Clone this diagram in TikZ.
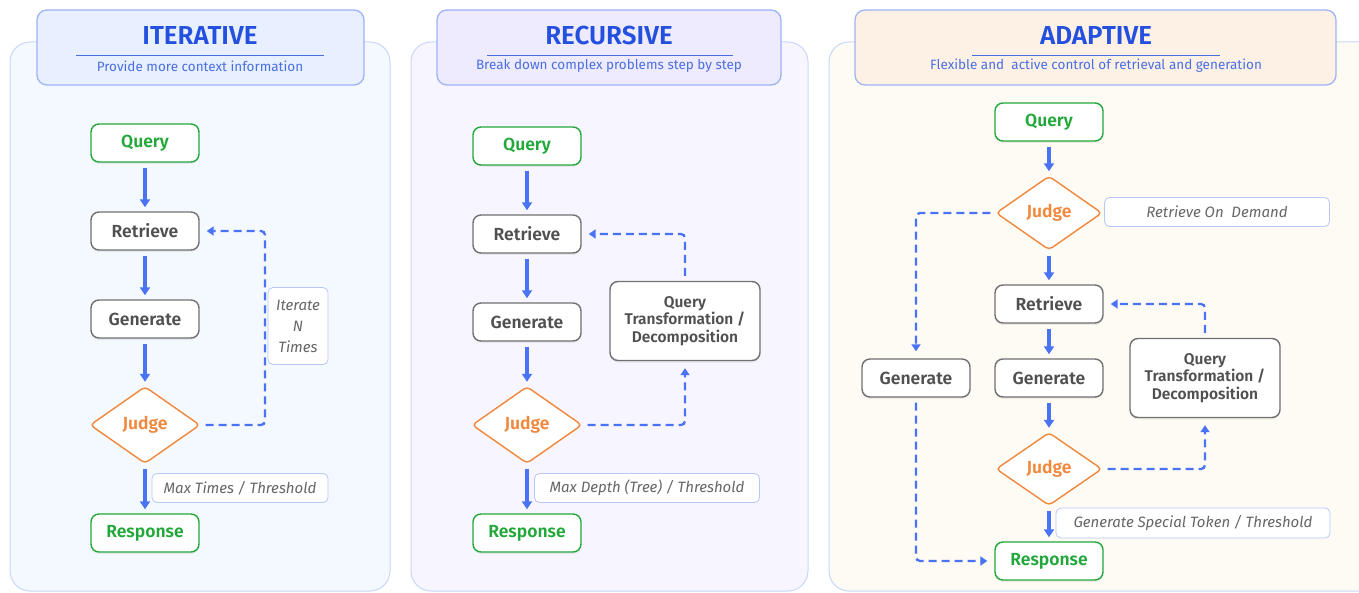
\documentclass[tikz,border=0pt]{standalone}
\usepackage{fontspec}
\setmainfont{Fira Sans}
\newfontfamily\semifont{Fira Sans SemiBold}
\usetikzlibrary{shapes.geometric,arrows.meta,shadows}
\definecolor{ablue}{HTML}{4A72F5}
\definecolor{tblue}{HTML}{2450E0}
\definecolor{sblue}{HTML}{4A6FE3}
\definecolor{qgreen}{HTML}{22A83A}
\definecolor{jorange}{HTML}{F0873A}
\definecolor{ngray}{HTML}{707070}
\definecolor{ntext}{HTML}{505050}
\definecolor{lborder}{HTML}{B8C8FB}
\definecolor{ltext}{HTML}{666666}
\definecolor{pAfill}{HTML}{F4F8FF}
\definecolor{pAborder}{HTML}{C8D6FA}
\definecolor{hAfill}{HTML}{E8EFFE}
\definecolor{hborder}{HTML}{9DB3F4}
\definecolor{pBfill}{HTML}{F7F5FF}
\definecolor{hBfill}{HTML}{EFEBFE}
\definecolor{pCfill}{HTML}{FEFAF4}
\definecolor{hCfill}{HTML}{FCF1E4}
\tikzset{
  panel/.style={draw=pAborder, line width=1pt, rounded corners=20pt},
  header/.style={draw=hborder, line width=1.3pt, rounded corners=10pt},
  ttl/.style={text=tblue, font=\fontsize{26}{30}\semifont},
  sub/.style={text=sblue, font=\fontsize{13.5}{16}\selectfont},
  hline/.style={draw=sblue, line width=0.6pt},
  soft/.style={drop shadow={opacity=0.12, shadow xshift=0pt, shadow yshift=-2pt}},
  nbox/.style={draw=#1, line width=1.4pt, rounded corners=8pt, fill=white, soft,
    minimum width=108pt, minimum height=38pt, inner sep=2pt,
    font=\fontsize{17.5}{20}\semifont},
  plain/.style={nbox=ngray, text=ntext},
  qr/.style={nbox=qgreen, text=qgreen},
  judge/.style={diamond, draw=jorange, line width=1.4pt, rounded corners=4pt, fill=white,
    minimum width=110pt, minimum height=77pt, inner sep=0pt, text=jorange,
    font=\fontsize{17.5}{20}\semifont},
  qtd/.style={draw=ngray, line width=1.4pt, rounded corners=8pt, fill=white, text=ntext, soft,
    minimum width=150pt, minimum height=79pt, align=center,
    font=\fontsize{15.5}{17.5}\semifont},
  lbl/.style={draw=lborder, line width=0.8pt, rounded corners=5pt, fill=white,
    text=ltext, font=\fontsize{15}{21}\selectfont\itshape, align=center, inner sep=2pt},
  solidarrow/.style={draw=ablue, line width=3.4pt, -{Triangle[length=8pt,width=10pt]},
    shorten <=5pt, shorten >=4pt},
  dasharrow/.style={draw=ablue, line width=2.3pt, dash pattern=on 8pt off 5pt,
    rounded corners=4pt, -{Triangle[length=7pt,width=9pt]}, shorten <=5pt, shorten >=7pt},
}
\begin{document}
\begin{tikzpicture}[x=1pt,y=-1pt]
\useasboundingbox (0,0) rectangle (1359,593);
% panels
\path[panel, fill=pAfill] (10,42) rectangle (390,591);
\path[panel, fill=pBfill] (411,42) rectangle (808,591);
\path[panel, fill=pCfill] (829,42) rectangle (1380,591);
% headers
\path[header, fill=hAfill] (37,10) rectangle (364,85);
\path[header, fill=hBfill] (437,10) rectangle (781,85);
\path[header, fill=hCfill] (855,10) rectangle (1336,85);
\node[ttl] (tA) at (200,36) {ITERATIVE};
\node[ttl] (tB) at (609,36) {RECURSIVE};
\node[ttl] (tC) at (1096,36) {ADAPTIVE};
\draw[hline] (76,55) -- (324,55);
\draw[hline] (487,55) -- (733,55);
\draw[hline] (972,55) -- (1220,55);
\node[sub] (sA) at (200,66) {Provide more context information};
\node[sub] (sB) at (609,66) {Break down complex problems step by step};
\node[sub] (sC) at (1096,66) {Flexible and\ \ active control of retrieval and generation};

% ---------- Iterative
\node[qr] (q1) at (145,143) {Query};
\node[plain] (r1) at (145,231) {Retrieve};
\node[plain] (g1) at (145,319) {Generate};
\node[judge] (j1) at (145,425) {Judge};
\node[qr] (s1) at (145,533) {Response};
\node[lbl, minimum width=60pt, minimum height=77pt] (l1a) at (298,326) {Iterate\\N\\Times};
\node[lbl, minimum width=176pt, minimum height=29pt] (l1b) at (240,488) {Max Times / Threshold};
\draw[solidarrow] (q1) -- (r1);
\draw[solidarrow] (r1) -- (g1);
\draw[solidarrow] (g1) -- (j1);
\draw[solidarrow] (j1) -- (s1);
\coordinate (c1) at (265,425);
\draw[dasharrow] (j1.east) -- (c1) |- (r1.east);

% ---------- Recursive
\node[qr] (q2) at (527,146) {Query};
\node[plain] (r2) at (527,234) {Retrieve};
\node[plain] (g2) at (527,322) {Generate};
\node[judge] (j2) at (527,425) {Judge};
\node[qr] (s2) at (527,533) {Response};
\node[qtd] (t2) at (685,321) {Query\\Transformation /\\Decomposition};
\node[lbl, minimum width=225pt, minimum height=29pt] (l2b) at (647,488) {Max Depth (Tree) / Threshold};
\draw[solidarrow] (q2) -- (r2);
\draw[solidarrow] (r2) -- (g2);
\draw[solidarrow] (g2) -- (j2);
\draw[solidarrow] (j2) -- (s2);
\draw[dasharrow] (j2.east) -| (t2.south);
\draw[dasharrow] (t2.north) |- (r2.east);

% ---------- Adaptive
\node[qr] (q3) at (1049,122) {Query};
\node[judge, minimum width=106pt, minimum height=74pt] (j3) at (1049,213) {Judge};
\node[lbl, minimum width=225pt, minimum height=29pt] (l3a) at (1217,212) {Retrieve On\ \ Demand};
\node[plain] (r3) at (1049,304) {Retrieve};
\node[plain] (g3) at (1049,378) {Generate};
\node[plain] (g3b) at (916,378) {Generate};
\node[qtd] (t3) at (1205,378) {Query\\Transformation /\\Decomposition};
\node[judge, minimum width=106pt, minimum height=73pt] (j4) at (1049,469) {Judge};
\node[lbl, minimum width=274pt, minimum height=30pt] (l3b) at (1193,523) {Generate Special Token / Threshold};
\node[qr] (s3) at (1049,561) {Response};
\draw[solidarrow] (q3) -- (j3);
\draw[solidarrow] (j3) -- (r3);
\draw[solidarrow] (r3) -- (g3);
\draw[solidarrow] (g3) -- (j4);
\draw[solidarrow] (j4) -- (s3);
\draw[dasharrow] (j3.west) -| (g3b.north);
\draw[dasharrow] (g3b.south) |- (s3.west);
\draw[dasharrow] (j4.east) -| (t3.south);
\draw[dasharrow] (t3.north) |- (r3.east);
\end{tikzpicture}
\end{document}
